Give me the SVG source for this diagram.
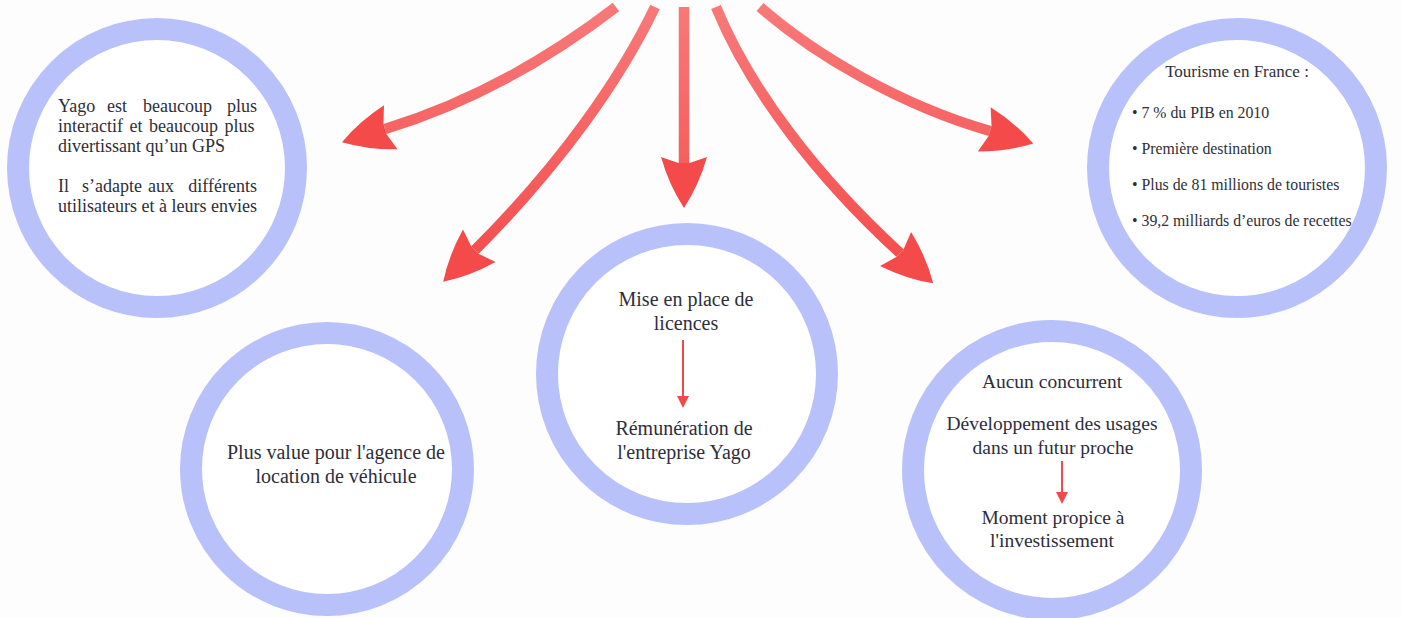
<svg xmlns="http://www.w3.org/2000/svg" width="1401" height="618" viewBox="0 0 1401 618">
<style>
.ring{fill:#ffffff;stroke:#b9c1fb;stroke-width:22}
.t{font-family:"Liberation Serif","Times New Roman",serif;fill:#2e2e3a}
.c{text-anchor:middle}
.e{text-anchor:end}
.big{font-size:20px}
.mid{font-size:19.5px}
.s1{font-size:18px}
.s2{font-size:15.8px}
.conn{fill:none;stroke:url(#rg);stroke-width:10.5;stroke-linecap:butt}
.small{fill:none;stroke:#f04a4a;stroke-width:2}
</style>
<defs>
<linearGradient id="rg" gradientUnits="userSpaceOnUse" x1="0" y1="0" x2="0" y2="280">
<stop offset="0" stop-color="#f87a7a"/>
<stop offset="1" stop-color="#f44b4b"/>
</linearGradient>
<marker id="ah" markerUnits="userSpaceOnUse" orient="auto" viewBox="-10 -30 60 60" markerWidth="60" markerHeight="60" refX="0" refY="0">
<path d="M45,0 Q22,-15 -6,-23 L0,-5.5 L0,5.5 L-6,23 Q22,15 45,0 Z" fill="#f44a4a"/>
</marker>
<marker id="sh" markerUnits="userSpaceOnUse" orient="auto" viewBox="-2 -8 16 16" markerWidth="16" markerHeight="16" refX="0" refY="0">
<path d="M0,-6 L12,0 L0,6 Z" fill="#f04a4a"/>
</marker>
</defs>
<rect x="0" y="0" width="1401" height="618" fill="#fdfdfd"/>

<g id="connectors">
<path class="conn" d="M616,7 C560,50 480,100 385,129" marker-end="url(#ah)"/>
<path class="conn" d="M655,7 C620,80 560,165 475,250" marker-end="url(#ah)"/>
<path class="conn" d="M684,7 L684,163" marker-end="url(#ah)"/>
<path class="conn" d="M716,7 C750,90 818,178 900,253" marker-end="url(#ah)"/>
<path class="conn" d="M760,7 C815,55 900,105 990,131" marker-end="url(#ah)"/>
</g>

<g id="node-gps">
<circle class="ring" cx="157" cy="168" r="139"/>
<text class="t s1" x="58" y="112">Yago</text>
<text class="t s1" x="107" y="112">est</text>
<text class="t s1" x="143" y="112">beaucoup</text>
<text class="t s1 e" x="257" y="112">plus</text>
<text class="t s1" x="58" y="132" word-spacing="2">interactif et beaucoup plus</text>
<text class="t s1" x="58" y="152">divertissant qu’un GPS</text>
<text class="t s1" x="58" y="192">Il</text>
<text class="t s1" x="82" y="192">s’adapte</text>
<text class="t s1" x="148" y="192">aux</text>
<text class="t s1 e" x="257" y="192">différents</text>
<text class="t s1" x="58" y="212">utilisateurs et à leurs envies</text>
</g>

<g id="node-plusvalue">
<circle class="ring" cx="327" cy="469" r="136"/>
<text class="t big c" x="336" y="459">Plus value pour l'agence de</text>
<text class="t big c" x="336" y="483">location de véhicule</text>
</g>

<g id="node-licences">
<circle class="ring" cx="687" cy="374" r="140"/>
<text class="t big c" x="686" y="306">Mise en place de</text>
<text class="t big c" x="686" y="330">licences</text>
<line class="small" x1="683" y1="340" x2="683" y2="396" marker-end="url(#sh)"/>
<text class="t big c" x="684" y="435">Rémunération de</text>
<text class="t big c" x="684" y="459">l'entreprise Yago</text>
</g>

<g id="node-concurrent">
<circle class="ring" cx="1052" cy="470" r="139"/>
<text class="t mid c" x="1052" y="388">Aucun concurrent</text>
<text class="t mid c" x="1052" y="430">Développement des usages</text>
<text class="t mid c" x="1053" y="454">dans un futur proche</text>
<line class="small" x1="1062" y1="461" x2="1062" y2="492" marker-end="url(#sh)"/>
<text class="t mid c" x="1053" y="524">Moment propice à</text>
<text class="t mid c" x="1052" y="547">l'investissement</text>
</g>

<g id="node-tourisme">
<circle class="ring" cx="1237" cy="168" r="139"/>
<text class="t c" style="font-size:17px" x="1237" y="77">Tourisme en France :</text>
<text class="t s2" x="1132" y="118">• 7 % du PIB en 2010</text>
<text class="t s2" x="1132" y="154">• Première destination</text>
<text class="t s2" x="1132" y="190">• Plus de 81 millions de touristes</text>
<text class="t s2" x="1132" y="226">• 39,2 milliards d’euros de recettes</text>
</g>
</svg>
